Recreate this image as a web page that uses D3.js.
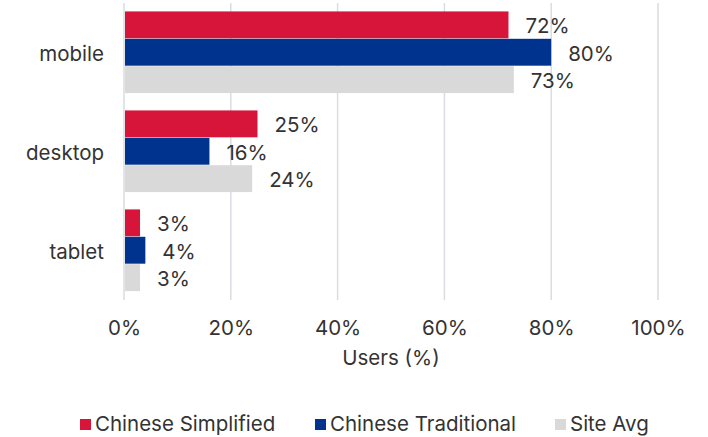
<!DOCTYPE html>
<html><head><meta charset="utf-8">
<script src="https://cdn.jsdelivr.net/npm/d3@7"></script>
<style>body{margin:0;background:#fff}svg{display:block}text{font-family:Inter,Roboto,sans-serif;fill:#333}</style>
</head><body><svg id="c" width="708" height="437"></svg>
<script>
const categories = ["mobile","desktop","tablet"];
const seriesNames = ["Chinese Simplified","Chinese Traditional","Site Avg"];
const seriesColors = ["#D7153A","#00338D","#D9D9D9"];
const simplified = [72, 25, 3];
const traditional = [80, 16, 4];
const siteAvg = [73, 24, 3];
const xTicks = [0,20,40,60,80,100];

const seriesVals = [simplified, traditional, siteAvg];
const svg = d3.select("#c");
const F = "Inter,Roboto,sans-serif";
const FS = 20.5;
const L = 124, R = 658, T = 3, B = 300;
const x = d3.scaleLinear().domain([0,100]).range([L,R]);
const y = d3.scaleBand().domain(categories).range([T,B]).paddingInner(0.17).paddingOuter(0.085);
const ys = d3.scaleBand().domain(d3.range(3)).range([0,y.bandwidth()]);

svg.append("g").selectAll("line").data(xTicks).join("line")
  .attr("x1",d=>x(d)).attr("x2",d=>x(d)).attr("y1",T).attr("y2",B)
  .attr("stroke","#D9DCE1").attr("stroke-width",1.5);

const axis = d3.axisBottom(x).tickValues(xTicks).tickFormat(d=>d+"%").tickSize(0).tickPadding(0);
const ax = svg.append("g").attr("transform",`translate(0,${B+28})`).call(axis);
ax.select(".domain").remove();
ax.selectAll("text").attr("font-size",FS).attr("fill","#333").attr("dy","0.35em").style("font-family",F);

svg.append("text").attr("x",x(50)).attr("y",358).attr("dy","0.35em").attr("text-anchor","middle").attr("font-size",FS).text("Users (%)");

const yAxis = d3.axisLeft(y).tickSize(0).tickPadding(20);
const ya = svg.append("g").attr("transform",`translate(${L},2)`).call(yAxis);
ya.select(".domain").remove();
ya.selectAll("text").attr("font-size",FS).attr("fill","#333").style("font-family",F);

categories.forEach((c,ci)=>{
  seriesVals.forEach((vals,si)=>{
    const v = vals[ci];
    const yy = y(c)+ys(si);
    svg.append("rect").attr("x",x(0)+1).attr("y",yy).attr("width",x(v)-x(0)-1).attr("height",ys.bandwidth()-0.5)
      .attr("fill",seriesColors[si]);
    svg.append("text").attr("x",x(v)+17).attr("y",yy+ys.bandwidth()/2+1).attr("dy","0.35em")
      .attr("font-size",FS).text(v+"%");
  });
});

const legX = [80, 315, 555];
seriesNames.forEach((n,i)=>{
  svg.append("rect").attr("x",legX[i]).attr("y",419).attr("width",11).attr("height",11).attr("fill",seriesColors[i]);
  svg.append("text").attr("x",legX[i]+15).attr("y",424).attr("dy","0.35em").attr("font-size",FS).text(n);
});
</script></body></html>
